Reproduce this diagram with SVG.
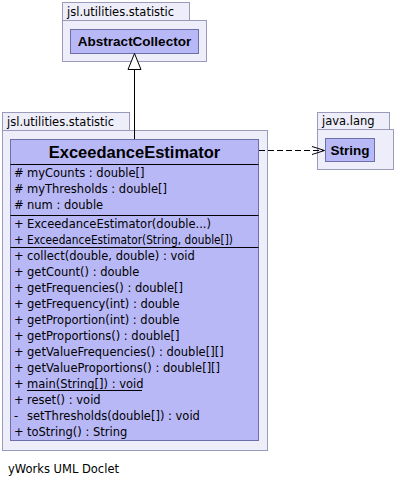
<svg xmlns="http://www.w3.org/2000/svg" width="395" height="488" viewBox="0 0 395 488">
  <style>
    .pkg { fill: #eeeefa; stroke: #9a9abb; stroke-width: 1; }
    .cls { fill: #b8b8f6; stroke: #6e6ea8; stroke-width: 1; }
    .sep { stroke: #000000; stroke-width: 1; }
    .pkgLabel { font-family: "DejaVu Sans", Verdana, sans-serif; font-size: 11.5px; fill: #000000; }
    .clsName { font-family: "Liberation Sans", Arial, sans-serif; font-weight: bold; fill: #000000; text-anchor: middle; }
    .member { font-family: "DejaVu Sans", Verdana, sans-serif; font-size: 11.5px; fill: #000000; }
    .edge { fill: none; stroke: #000000; stroke-width: 1; }
  </style>
  <rect width="395" height="488" fill="#ffffff"/>

  <!-- package holding AbstractCollector -->
  <g id="pkg-statistic-top">
    <rect class="pkg" x="62.5" y="2.5" width="127" height="18"/>
    <rect class="pkg" x="62.5" y="20.5" width="144" height="41"/>
    <text class="pkgLabel" x="67" y="16">jsl.utilities.statistic</text>
  </g>
  <g id="AbstractCollector">
    <rect class="cls" x="70.5" y="29.5" width="128" height="24"/>
    <text class="clsName" x="134.5" y="46" font-size="13.5">AbstractCollector</text>
  </g>

  <!-- package holding ExceedanceEstimator -->
  <g id="pkg-statistic">
    <rect class="pkg" x="2.5" y="112.5" width="127" height="18"/>
    <rect class="pkg" x="2.5" y="130.5" width="265" height="320"/>
    <text class="pkgLabel" x="7" y="126">jsl.utilities.statistic</text>
  </g>
  <g id="ExceedanceEstimator">
    <rect class="cls" x="10.5" y="139.5" width="248" height="301"/>
    <text class="clsName" x="134.5" y="158" font-size="16.5">ExceedanceEstimator</text>
    <line class="sep" x1="10.5" y1="164.5" x2="258.5" y2="164.5"/>
    <text class="member" y="177"><tspan x="14">#</tspan><tspan x="27">myCounts : double[]</tspan></text>
    <text class="member" y="193"><tspan x="14">#</tspan><tspan x="27">myThresholds : double[]</tspan></text>
    <text class="member" y="209"><tspan x="14">#</tspan><tspan x="27">num : double</tspan></text>
    <line class="sep" x1="10.5" y1="215.5" x2="258.5" y2="215.5"/>
    <text class="member" y="228"><tspan x="14">+</tspan><tspan x="27">ExceedanceEstimator(double...)</tspan></text>
    <text class="member" y="244"><tspan x="14">+</tspan><tspan x="27" textLength="206" lengthAdjust="spacingAndGlyphs">ExceedanceEstimator(String, double[])</tspan></text>
    <line class="sep" x1="10.5" y1="247.5" x2="258.5" y2="247.5"/>
    <text class="member" y="260"><tspan x="14">+</tspan><tspan x="27">collect(double, double) : void</tspan></text>
    <text class="member" y="276"><tspan x="14">+</tspan><tspan x="27">getCount() : double</tspan></text>
    <text class="member" y="292"><tspan x="14">+</tspan><tspan x="27">getFrequencies() : double[]</tspan></text>
    <text class="member" y="308"><tspan x="14">+</tspan><tspan x="27">getFrequency(int) : double</tspan></text>
    <text class="member" y="324"><tspan x="14">+</tspan><tspan x="27">getProportion(int) : double</tspan></text>
    <text class="member" y="340"><tspan x="14">+</tspan><tspan x="27">getProportions() : double[]</tspan></text>
    <text class="member" y="356"><tspan x="14">+</tspan><tspan x="27">getValueFrequencies() : double[][]</tspan></text>
    <text class="member" y="372"><tspan x="14">+</tspan><tspan x="27">getValueProportions() : double[][]</tspan></text>
    <text class="member" y="388"><tspan x="14">+</tspan><tspan x="27">main(String[]) : void</tspan></text>
    <line class="sep" x1="27" y1="390.5" x2="142" y2="390.5"/>
    <text class="member" y="404"><tspan x="14">+</tspan><tspan x="27">reset() : void</tspan></text>
    <text class="member" y="420"><tspan x="14">-</tspan><tspan x="27">setThresholds(double[]) : void</tspan></text>
    <text class="member" y="436"><tspan x="14">+</tspan><tspan x="27">toString() : String</tspan></text>
  </g>

  <!-- package holding String -->
  <g id="pkg-java-lang">
    <rect class="pkg" x="317.5" y="112.5" width="72" height="17"/>
    <rect class="pkg" x="317.5" y="129.5" width="76" height="40"/>
    <text class="pkgLabel" x="322" y="125">java.lang</text>
  </g>
  <g id="String">
    <rect class="cls" x="325.5" y="138.5" width="49" height="23"/>
    <text class="clsName" x="350" y="155" font-size="13.5">String</text>
  </g>

  <!-- connectors -->
  <g id="connectors">
    <!-- generalization: ExceedanceEstimator extends AbstractCollector -->
    <line class="edge" x1="134.5" y1="139" x2="134.5" y2="69.5"/>
    <polygon points="134.5,53.5 128,69.5 141,69.5" fill="#ffffff" stroke="#000000" stroke-width="1"/>
    <!-- dependency: ExceedanceEstimator uses String -->
    <line class="edge" x1="259" y1="150.5" x2="324" y2="150.5" stroke-dasharray="6,3"/>
    <polyline class="edge" points="312,146.5 324.5,150.5 312,154.5"/>
  </g>

  <text class="member" x="8" y="473">yWorks UML Doclet</text>
</svg>
